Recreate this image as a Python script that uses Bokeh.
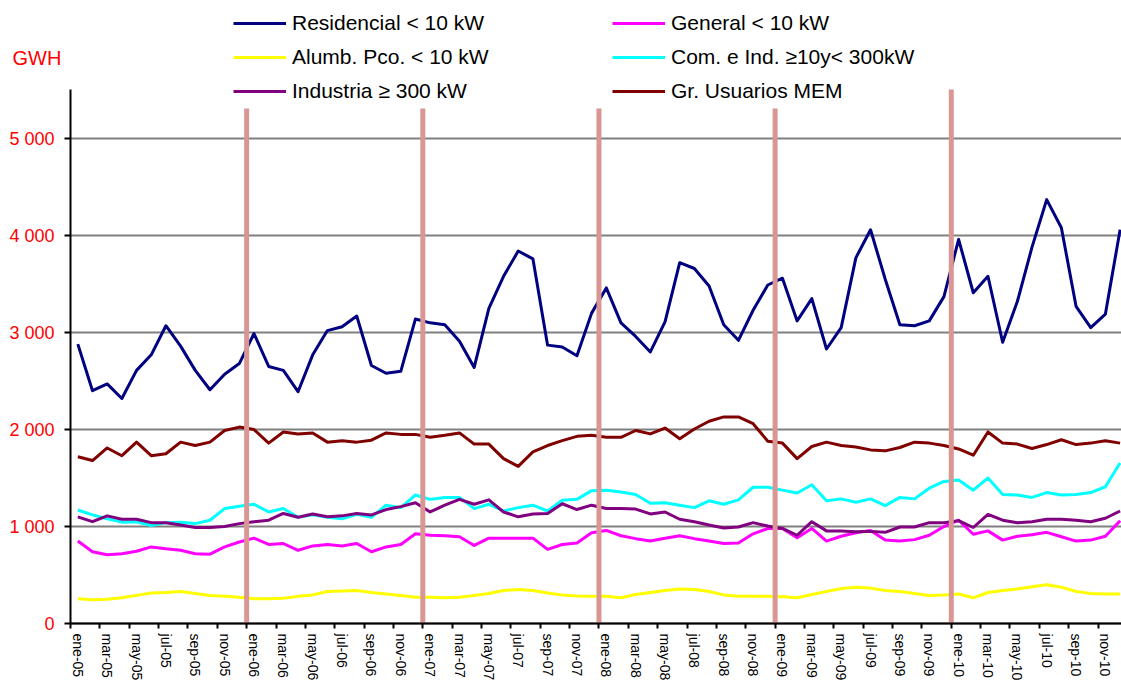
from bokeh.plotting import figure
from bokeh.models import FixedTicker, Legend, LegendItem, Label, Range1d
from bokeh.embed import file_html
from bokeh.resources import INLINE

# ---------------- data ----------------
meses = ["ene-05", "feb-05", "mar-05", "abr-05", "may-05", "jun-05", "jul-05", "ago-05", "sep-05", "oct-05", "nov-05", "dic-05",
         "ene-06", "feb-06", "mar-06", "abr-06", "may-06", "jun-06", "jul-06", "ago-06", "sep-06", "oct-06", "nov-06", "dic-06",
         "ene-07", "feb-07", "mar-07", "abr-07", "may-07", "jun-07", "jul-07", "ago-07", "sep-07", "oct-07", "nov-07", "dic-07",
         "ene-08", "feb-08", "mar-08", "abr-08", "may-08", "jun-08", "jul-08", "ago-08", "sep-08", "oct-08", "nov-08", "dic-08",
         "ene-09", "feb-09", "mar-09", "abr-09", "may-09", "jun-09", "jul-09", "ago-09", "sep-09", "oct-09", "nov-09", "dic-09",
         "ene-10", "feb-10", "mar-10", "abr-10", "may-10", "jun-10", "jul-10", "ago-10", "sep-10", "oct-10", "nov-10", "dic-10"]

residencial = [2880, 2400, 2470, 2320, 2610, 2770, 3070, 2860, 2610, 2410, 2570, 2680,
               2990, 2650, 2610, 2390, 2770, 3020, 3060, 3170, 2660, 2580, 2600, 3140,
               3100, 3080, 2910, 2640, 3250, 3580, 3840, 3760, 2870, 2850, 2760, 3200,
               3460, 3100, 2960, 2800, 3110, 3720, 3660, 3480, 3080, 2920, 3230, 3490,
               3560, 3120, 3350, 2830, 3050, 3770, 4060, 3550, 3080, 3070, 3120, 3370,
               3960, 3410, 3580, 2900, 3320, 3880, 4370, 4080, 3270, 3050, 3190, 4060]

general = [850, 740, 710, 720, 745, 790, 770, 755, 720, 715, 790, 840,
           880, 815, 825, 755, 800, 815, 800, 825, 740, 790, 815, 925,
           910, 905, 895, 805, 880, 880, 880, 880, 765, 815, 830, 935,
           960, 905, 875, 850, 880, 905, 875, 850, 825, 830, 925, 980,
           980, 885, 980, 850, 900, 935, 960, 860, 850, 865, 910, 1000,
           1065, 920, 955, 860, 900, 915, 940, 895, 850, 860, 900, 1060]

alumbrado = [255, 245, 250, 265, 290, 315, 320, 330, 310, 290, 280, 270,
             255, 255, 260, 280, 295, 330, 335, 340, 320, 305, 290, 270,
             270, 265, 270, 290, 310, 340, 350, 340, 315, 295, 285, 280,
             280, 265, 300, 320, 340, 355, 350, 330, 295, 280, 280, 280,
             275, 265, 300, 330, 360, 375, 365, 340, 330, 310, 290, 295,
             305, 265, 320, 340, 355, 380, 400, 375, 330, 310, 305, 305]

comercial = [1170, 1120, 1080, 1045, 1050, 1010, 1040, 1045, 1030, 1065, 1185, 1210,
             1230, 1150, 1185, 1095, 1120, 1095, 1080, 1125, 1095, 1220, 1195, 1325,
             1280, 1300, 1300, 1185, 1230, 1160, 1195, 1220, 1160, 1270, 1280, 1370,
             1375, 1355, 1330, 1240, 1245, 1220, 1195, 1265, 1230, 1275, 1405, 1405,
             1375, 1345, 1430, 1265, 1285, 1250, 1285, 1215, 1300, 1285, 1395, 1465,
             1480, 1375, 1500, 1330, 1325, 1300, 1350, 1325, 1330, 1350, 1410, 1655]

industria = [1100, 1050, 1110, 1075, 1075, 1040, 1040, 1015, 990, 990, 1000, 1030,
             1050, 1065, 1135, 1095, 1130, 1100, 1110, 1135, 1120, 1175, 1205, 1245,
             1150, 1220, 1280, 1230, 1275, 1150, 1100, 1130, 1135, 1235, 1175, 1220,
             1185, 1185, 1180, 1130, 1150, 1075, 1050, 1015, 985, 995, 1040, 1005,
             980, 910, 1050, 955, 955, 945, 950, 940, 995, 995, 1040, 1040,
             1060, 990, 1125, 1065, 1040, 1050, 1075, 1075, 1065, 1050, 1085, 1160]

usuarios_mem = [1720, 1680, 1810, 1730, 1870, 1730, 1750, 1870, 1835, 1870, 1990, 2025,
                2000, 1860, 1975, 1955, 1965, 1870, 1885, 1870, 1890, 1965, 1950, 1950,
                1920, 1940, 1965, 1850, 1850, 1700, 1620, 1770, 1835, 1885, 1930, 1940,
                1920, 1920, 1990, 1955, 2015, 1905, 2005, 2085, 2130, 2130, 2060, 1880,
                1860, 1700, 1825, 1870, 1835, 1820, 1790, 1780, 1815, 1870, 1860, 1835,
                1800, 1735, 1975, 1860, 1850, 1805, 1845, 1895, 1845, 1860, 1885, 1860]

y_ticks = [0, 1000, 2000, 3000, 4000, 5000]
y_tick_labels = ["0", "1 000", "2 000", "3 000", "4 000", "5 000"]

# vertical year separators (before each January) and their top values
separadores = ["ene-06", "ene-07", "ene-08", "ene-09", "ene-10"]
separador_top = [5310, 5310, 5310, 5310, 5505]

# ---------------- figure ----------------
x = list(range(len(meses)))
AXIS_TOP = 5505
X0 = -0.5                      # left edge of the first category (y axis position)

p = figure(width=1121, height=682, output_backend="svg", toolbar_location=None,
           x_range=Range1d(-5.268, 71.096), y_range=Range1d(-608, 6423),
           min_border_left=0, min_border_right=0, min_border_top=0, min_border_bottom=0)
p.outline_line_color = None
p.background_fill_color = "white"
p.border_fill_color = "white"

FONT = "Liberation Sans"

# x axis, drawn at y = 0
p.xaxis.fixed_location = 0
p.xaxis.ticker = FixedTicker(ticks=list(range(0, 72, 2)),
                             minor_ticks=[i - 0.5 for i in range(0, 72, 2)])
p.xaxis.major_label_overrides = {i: meses[i] for i in range(0, 72, 2)}
p.xaxis.major_label_orientation = "vertical"
p.xaxis.bounds = (X0, 80)
p.xaxis.major_tick_line_color = None
p.xaxis.major_tick_out = 0
p.xaxis.major_tick_in = 0
p.xaxis.minor_tick_line_color = "black"
p.xaxis.minor_tick_line_width = 2
p.xaxis.minor_tick_out = 5
p.xaxis.minor_tick_in = 0
p.xaxis.axis_line_color = "black"
p.xaxis.axis_line_width = 2
p.xaxis.major_label_text_font = FONT
p.xaxis.major_label_text_font_size = "14px"
p.xaxis.major_label_text_color = "black"
p.xaxis.major_label_standoff = 5

# y axis, drawn at the left edge of the first category
p.yaxis.fixed_location = X0
p.yaxis.bounds = (0, AXIS_TOP)
p.yaxis.ticker = FixedTicker(ticks=y_ticks, minor_ticks=[])
p.yaxis.major_label_overrides = dict(zip(y_ticks, y_tick_labels))
p.yaxis.major_label_text_color = "#FF0000"
p.yaxis.major_label_text_font = FONT
p.yaxis.major_label_text_font_size = "18px"
p.yaxis.major_tick_out = 6
p.yaxis.major_tick_in = 0
p.yaxis.major_tick_line_width = 2
p.yaxis.major_tick_line_color = "black"
p.yaxis.minor_tick_line_color = None
p.yaxis.axis_line_color = "black"
p.yaxis.axis_line_width = 2
p.yaxis.major_label_standoff = 10

p.xgrid.visible = False
p.ygrid.grid_line_color = "#808080"
p.ygrid.grid_line_width = 2
p.ygrid.cross_bounds = (X0, 80)

# series
kw = dict(line_width=3, line_join="round")
r_res = p.line(x, residencial, line_color="#000080", **kw)
r_gen = p.line(x, general, line_color="#FF00FF", **kw)
r_alu = p.line(x, alumbrado, line_color="#FFFF00", **kw)
r_com = p.line(x, comercial, line_color="#00FFFF", **kw)
r_ind = p.line(x, industria, line_color="#800080", **kw)
r_mem = p.line(x, usuarios_mem, line_color="#800000", **kw)

# separators
sx = [meses.index(m) - 0.5 for m in separadores]
p.segment(x0=sx, y0=[0] * len(sx), x1=sx, y1=separador_top,
          line_color="#D99694", line_width=5)

# legends
leg_kw = dict(border_line_color=None, background_fill_alpha=0, padding=0, margin=0,
              spacing=0, glyph_width=53, glyph_height=34, label_height=34,
              label_standoff=6, label_text_font=FONT, label_text_font_size="21px",
              label_text_color="black")
leg1 = Legend(items=[LegendItem(label="Residencial < 10 kW", renderers=[r_res]),
                     LegendItem(label="Alumb. Pco. < 10 kW", renderers=[r_alu]),
                     LegendItem(label="Industria ≥ 300 kW", renderers=[r_ind])],
              location=(233, 574), **leg_kw)
leg2 = Legend(items=[LegendItem(label="General < 10 kW", renderers=[r_gen]),
                     LegendItem(label="Com. e Ind. ≥10y< 300kW", renderers=[r_com]),
                     LegendItem(label="Gr. Usuarios MEM", renderers=[r_mem])],
              location=(612, 574), **leg_kw)
p.add_layout(leg1)
p.add_layout(leg2)

p.add_layout(Label(x=12, y=625, x_units="screen", y_units="screen", text="GWH",
                   text_color="#FF0000", text_font=FONT, text_font_size="20px",
                   text_baseline="middle", text_align="left"))

open("out.html", "w").write(file_html(p, INLINE))
